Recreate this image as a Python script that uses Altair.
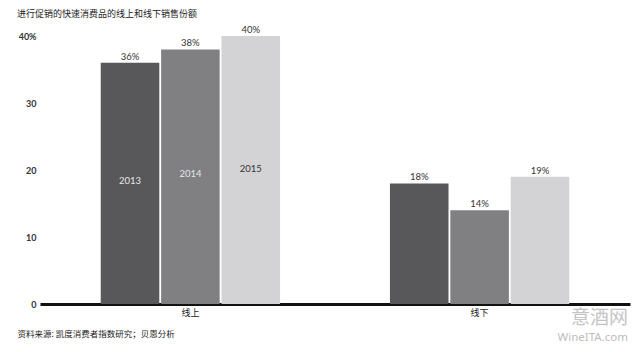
import altair as alt
import pandas as pd

channels = ["线上", "线下"]
years = ["2013", "2014", "2015"]
online = [36, 38, 40]
offline = [18, 14, 19]
year_colors = ["#58585a", "#808082", "#d3d3d5"]
year_label_colors = ["#e6e6e6", "#e6e6e6", "#333333"]
year_label_y = [18.4, 19.4, 20.1]

rows = []
for ch, vals in zip(channels, [online, offline]):
    for y, v in zip(years, vals):
        rows.append({"channel": ch, "year": y, "value": v, "label": f"{v}%"})
df = pd.DataFrame(rows)

ylab = pd.DataFrame({"channel": [channels[0]] * 3, "year": years,
                     "ly": year_label_y, "tc": year_label_colors})

x = alt.X("channel:N", sort=channels,
          scale=alt.Scale(paddingInner=0.38, paddingOuter=0.21),
          axis=alt.Axis(title="资料来源: 凯度消费者指数研究；贝恩分析", titleX=-23, titleY=29,
                        titleAlign="left", titleBaseline="middle", titleFontSize=8.5,
                        titleFont="Noto Sans CJK SC", titleFontWeight="normal", titleColor="#222222",
                        labelAngle=0, labelFont="Noto Sans CJK SC", labelFontSize=9,
                        labelColor="#222222", labelPadding=4, ticks=False, grid=False,
                        domainColor="#111111", domainWidth=3))
xo = alt.XOffset("year:N", sort=years, scale=alt.Scale(paddingInner=0.03))
yscale = alt.Scale(domain=[0, 40], nice=False)
yaxis = alt.Axis(title=None, values=[0, 10, 20, 30, 40], grid=False, domain=False,
                 ticks=False, labelPadding=4, labelFontSize=9, labelFont="Lato",
                 labelFontWeight="bold", labelColor="#333333",
                 labelExpr="datum.value == 40 ? '40%' : datum.label")

bars = alt.Chart(df).mark_bar().encode(
    x=x, xOffset=xo,
    y=alt.Y("value:Q", scale=yscale, axis=yaxis),
    color=alt.Color("year:N", sort=years, scale=alt.Scale(domain=years, range=year_colors), legend=None),
)

vals = alt.Chart(df).mark_text(baseline="bottom", dy=-1, fontSize=9.5, font="Lato",
                               color="#333333").encode(
    x=alt.X("channel:N", sort=channels), xOffset=xo,
    y=alt.Y("value:Q", scale=yscale), text="label:N")

yrs = alt.Chart(ylab).mark_text(baseline="middle", fontSize=9.5, font="Lato").encode(
    x=alt.X("channel:N", sort=channels), xOffset=xo,
    y=alt.Y("ly:Q", scale=yscale), text="year:N",
    color=alt.Color("tc:N", scale=None))

wm1 = alt.Chart(pd.DataFrame({"t": ["意酒网"]})).mark_text(
    align="right", baseline="middle", fontSize=19, font="Noto Sans CJK SC", color="#c4c4c4"
).encode(x=alt.value(588), y=alt.value(282), text="t:N")
wm2 = alt.Chart(pd.DataFrame({"t": ["WineITA.com"]})).mark_text(
    align="right", baseline="middle", fontSize=11.5, font="Noto Sans", color="#bdbdbd"
).encode(x=alt.value(588), y=alt.value(302), text="t:N")

chart = alt.layer(bars, vals, yrs, wm1, wm2).properties(
    width=590, height=268,
    view=alt.ViewBackground(stroke=None, strokeWidth=0),
    title=alt.TitleParams("进行促销的快速消费品的线上和线下销售份额", anchor="start", frame="group",
                          dx=-23, offset=6, fontSize=9, font="Noto Sans CJK SC",
                          fontWeight="normal", color="#222222"),
    autosize=alt.AutoSizeParams(type="none"),
    padding={"left": 40, "top": 36, "right": 10, "bottom": 48},
).configure_view(strokeWidth=0).configure_axis(grid=False).configure(background="white")

chart.save("out.html", embed_options={"renderer": "svg", "actions": False})
